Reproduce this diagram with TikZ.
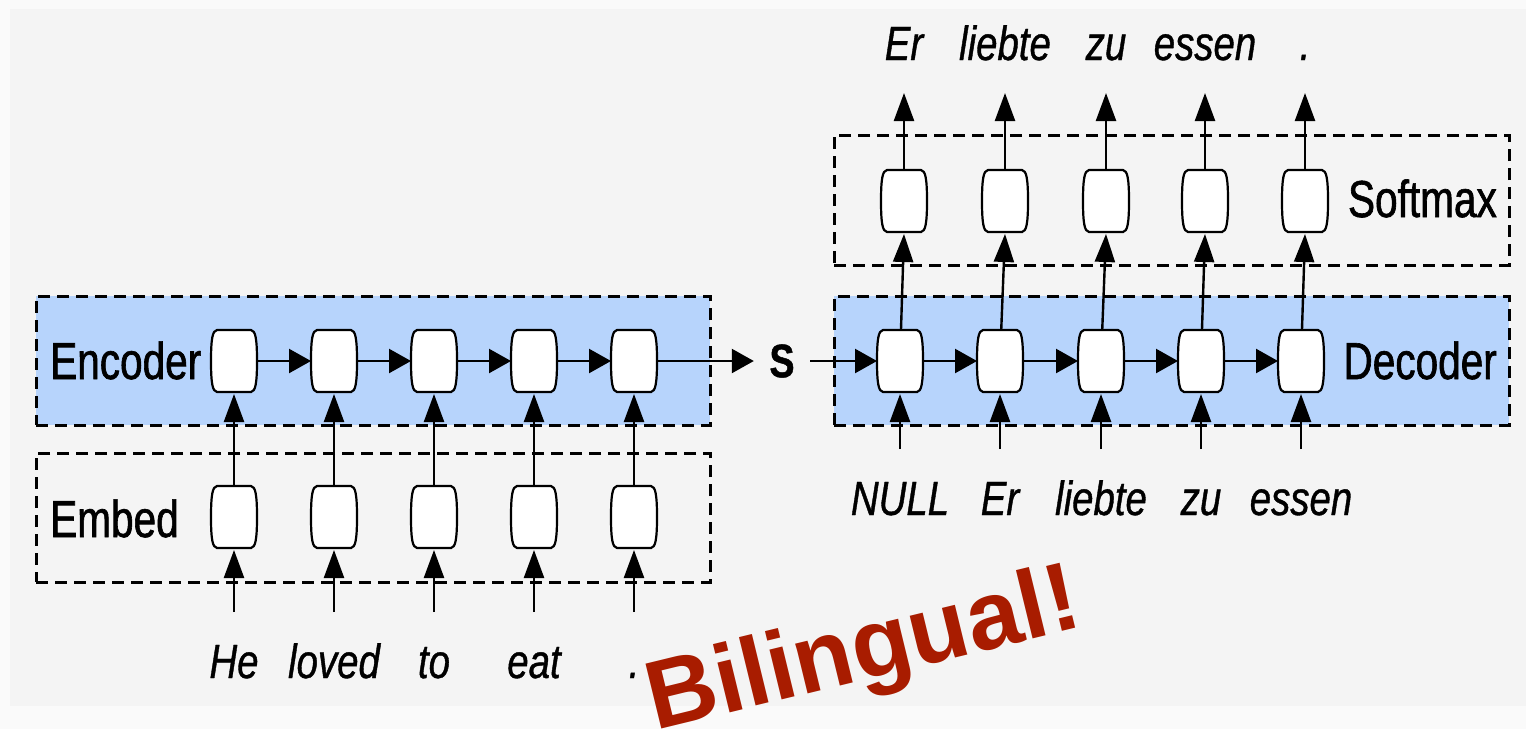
\documentclass[tikz,border=0pt]{standalone}
\usepackage{fontspec}
\setmainfont{Liberation Sans}
\newfontfamily\labfont[FakeStretch=0.78,FakeBold=1.2]{Liberation Sans}
\newfontfamily\wrdfont[FakeStretch=0.8,FakeBold=0.8]{Liberation Sans Italic}
\newfontfamily\sboldfont[FakeStretch=0.8,FakeBold=1]{Liberation Sans Bold}
\newfontfamily\stampfont{Liberation Sans Bold}
\usetikzlibrary{arrows.meta}
\definecolor{outerbg}{HTML}{FAFAFA}
\definecolor{panelbg}{HTML}{F4F4F4}
\definecolor{layerblue}{RGB}{183,212,252}
\definecolor{bired}{RGB}{168,28,0}
\newcommand\drawbarrel[2]{%
  \draw[cellline, shift={(#1,#2)}] (-17,-31) -- (17,-31)
    .. controls (21.5,-30.5) and (23,-22) .. (23,0)
    .. controls (23,22) and (21.5,30.5) .. (17,31) -- (-17,31)
    .. controls (-21.5,30.5) and (-23,22) .. (-23,0)
    .. controls (-23,-22) and (-21.5,-30.5) .. (-17,-31) -- cycle;}
\begin{document}
\begin{tikzpicture}[x=1pt,y=-1pt,
  cellline/.style={draw, fill=white, line width=2.2pt},
  cell/.style={minimum width=46pt, minimum height=62pt, inner sep=0pt, outer sep=0pt},
  layer/.style={draw, dash pattern=on 12pt off 7pt, line width=3pt, inner sep=0pt},
  harr/.style={line width=2.4pt, -{Triangle[length=22pt,width=24pt]}},
  varr/.style={line width=2.4pt, -{Triangle[length=28pt,width=20pt]}},
  lab/.style={font=\labfont\fontsize{52}{52}\selectfont, inner sep=0pt},
  wrd/.style={font=\wrdfont\fontsize{48}{48}\selectfont, inner sep=0pt, anchor=base},
]
\useasboundingbox (0,0) rectangle (1526,729);
\fill[outerbg] (0,0) rectangle (1526,729);
\fill[panelbg] (10,9) rectangle (1526,706);

% layer boxes
\node[layer, fill=layerblue, minimum width=674pt, minimum height=129pt] (encbox) at (373,360.5) {};
\node[layer, minimum width=674pt, minimum height=129pt] (embbox) at (373,517.5) {};
\node[layer, fill=layerblue, minimum width=675pt, minimum height=129pt] (decbox) at (1171.5,360.5) {};
\node[layer, minimum width=675pt, minimum height=130pt] (smbox) at (1171.5,200) {};

% layer labels
\node[lab, anchor=base west] (enclab) at (50,379) {Encoder};
\node[lab, anchor=base west] (emblab) at (50,537) {Embed};
\node[lab, anchor=base east] (declab) at (1497,379) {Decoder};
\node[lab, anchor=base east] (smlab) at (1497,217) {Softmax};

% encoder side
\foreach \i/\x/\w in {1/234/He,2/334/loved,3/434/to,4/534/eat,5/634/.}{
  \drawbarrel{\x}{361}
  \drawbarrel{\x}{517}
  \node[cell] (e\i) at (\x,361) {};
  \node[cell] (m\i) at (\x,517) {};
  \coordinate (in\i) at (\x,612);
  \node[wrd] (w\i) at (\x,678) {\w};
  \draw[varr] (in\i) -- ([yshift=-2pt]m\i.south);
  \draw[varr] (m\i) -- ([yshift=-2pt]e\i.south);
}
\foreach \a/\b in {1/2,2/3,3/4,4/5}{
  \draw[harr] (e\a) -- (e\b);
}

% context vector
\node[font=\sboldfont\fontsize{47}{47}\selectfont, inner sep=0pt, minimum width=56pt] (s) at (782,361) {S};
\draw[harr] (e5) -- (s);

% decoder side
\foreach \i/\x/\sx/\inw/\outw in {1/900/904/NULL/Er,2/1000/1005/Er/liebte,3/1101/1106/liebte/zu,4/1201/1205/zu/essen,5/1301/1305/essen/.}{
  \drawbarrel{\x}{361}
  \drawbarrel{\sx}{201}
  \node[cell] (d\i) at (\x,361) {};
  \node[cell] (sm\i) at (\sx,201) {};
  \coordinate (din\i) at (\x,449);
  \coordinate (dout\i) at (\sx,93);
  \node[wrd] (iw\i) at (\x,515) {\inw};
  \node[wrd] (ow\i) at (\sx,60) {\outw};
  \draw[varr] (din\i) -- ([yshift=-2pt]d\i.south);
  \draw[varr] (d\i) -- ([yshift=-2pt]sm\i.south);
  \draw[varr] (sm\i) -- (dout\i);
}
\draw[harr] (s) -- (d1);
\foreach \a/\b in {1/2,2/3,3/4,4/5}{
  \draw[harr] (d\a) -- (d\b);
}

% stamp
\node[font=\stampfont\fontsize{97}{97}\selectfont, text=bired, inner sep=0pt, anchor=base west, rotate=13.7] (bil) at (655,731) {Bilingual!};
\end{tikzpicture}
\end{document}
